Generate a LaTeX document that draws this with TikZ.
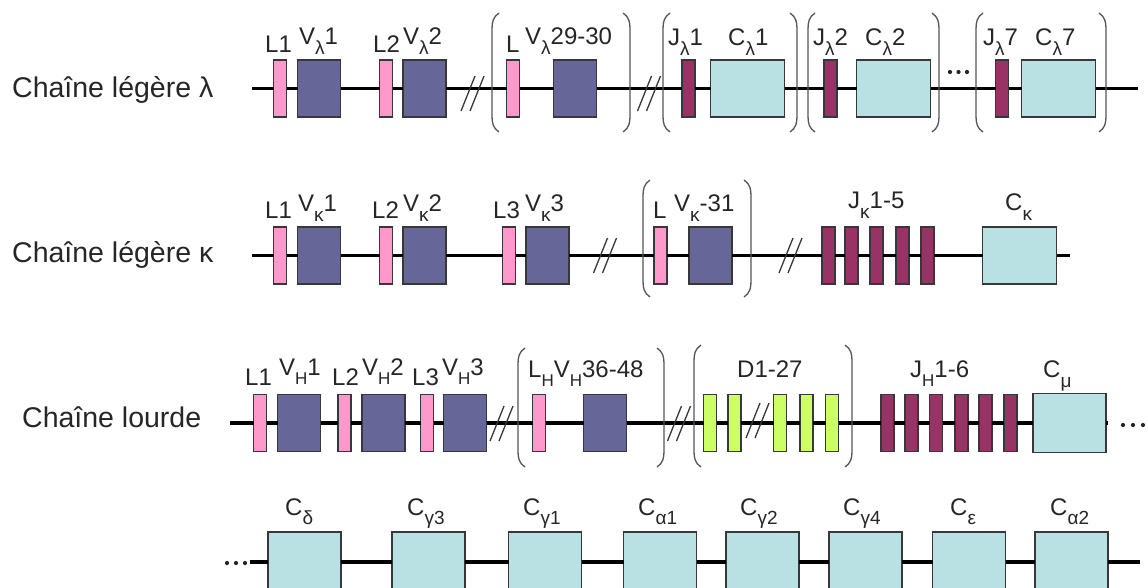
\documentclass[tikz,border=0pt]{standalone}
\usepackage{fontspec}
\setmainfont{Liberation Sans}
\definecolor{cL}{HTML}{FF99CC}
\definecolor{cV}{HTML}{666699}
\definecolor{cJ}{HTML}{993366}
\definecolor{cC}{HTML}{B9E1E4}
\definecolor{cD}{HTML}{CCFF66}
\definecolor{cEdge}{HTML}{383838}
\newcommand{\dsub}[2][10]{\raisebox{-#1pt}{\fontsize{19}{19}\selectfont #2}}
\newcommand{\hsub}{\raisebox{-9pt}{\fontsize{17}{17}\selectfont H}}
\newcommand{\brL}[3]{\draw[bracket] (#1+7,#2) .. controls (#1+1,#2+4) and (#1,#2+9) .. (#1,#2+16) -- (#1,#3-16) .. controls (#1,#3-9) and (#1+1,#3-4) .. (#1+7,#3);}
\newcommand{\brR}[3]{\draw[bracket] (#1-7,#2) .. controls (#1-1,#2+4) and (#1,#2+9) .. (#1,#2+16) -- (#1,#3-16) .. controls (#1,#3-9) and (#1-1,#3-4) .. (#1-7,#3);}
\newcommand{\brkmk}[2]{\draw[slash] (#1-11.5,#2+20) -- (#1+2.5,#2-15); \draw[slash] (#1-2.5,#2+20) -- (#1+11.5,#2-15);}
\tikzset{
 gbox/.style={draw=cEdge, line width=1.4pt, inner sep=0pt, outer sep=0pt, anchor=center},
 lbox/.style={gbox, fill=cL, minimum width=13pt, minimum height=57pt},
 vbox/.style={gbox, fill=cV, minimum width=43pt, minimum height=57pt},
 jbox/.style={gbox, fill=cJ, minimum width=13pt, minimum height=57pt},
 cbox/.style={gbox, fill=cC, minimum width=74pt, minimum height=57pt},
 dbox/.style={gbox, fill=cD, minimum width=13pt, minimum height=57pt},
 cbig/.style={gbox, fill=cC, minimum width=73pt, minimum height=59pt},
 chainline/.style={line width=3.2pt, black},
 lbl/.style={anchor=base west, inner sep=0pt, text=black!85, font=\fontsize{24}{24}\selectfont},
 ttl/.style={anchor=base west, inner sep=0pt, text=black!85, font=\fontsize{28.5}{28.5}\selectfont},
 bracket/.style={draw=cEdge!85, line width=1.3pt},
 slash/.style={draw=cEdge, line width=1.3pt},
 dotmk/.style={fill=black!85},
}
\begin{document}
\begin{tikzpicture}[x=1pt,y=-1pt]
\useasboundingbox (0,0) rectangle (1148,587);
\clip (0,0) rectangle (1148,587);
\fill[white] (0,0) rectangle (1148,587);

% ---------------- Row 1 : lambda ----------------
\node[ttl] (title1) at (12,97) {Chaîne légère λ};
\coordinate (r1s) at (252,88.5);
\coordinate (r1e) at (1138,88.5);
\node[lbox] (r1L1) at (280,88.5) {};
\node[vbox] (r1V1) at (319,88.5) {};
\node[lbox] (r1L2) at (386,88.5) {};
\node[vbox] (r1V2) at (424.5,88.5) {};
\node[lbox] (r1L3) at (513,88.5) {};
\node[vbox] (r1V3) at (575,88.5) {};
\node[jbox] (r1J1) at (688.5,88.5) {};
\node[cbox] (r1C1) at (747.5,88.5) {};
\node[jbox] (r1J2) at (830.5,88.5) {};
\node[cbox] (r1C2) at (893.5,88.5) {};
\node[jbox] (r1J7) at (1002,88.5) {};
\node[cbox] (r1C7) at (1058.5,88.5) {};
\draw[chainline] (r1s) -- (r1L1) -- (r1V1) -- (r1L2) -- (r1V2) -- (r1L3) -- (r1V3) -- (r1J1) -- (r1C1) -- (r1J2) -- (r1C2) -- (r1J7) -- (r1C7) -- (r1e);
\brkmk{472.5}{91}
\brkmk{649}{91}
\brL{492}{13}{132} \brR{630}{13}{132}
\brL{663}{13}{132} \brR{797}{13}{132}
\brL{808}{13}{132} \brR{939}{13}{132}
\brL{976}{13}{132} \brR{1106}{13}{132}
\fill[dotmk] (950,72) circle (2.1) (958.5,72) circle (2.1) (967,72) circle (2.1);
\node[lbl] (t1L1) at (265,52) {L1};
\node[lbl] (t1V1) at (299,44) {V\dsub{λ}1};
\node[lbl] (t1L2) at (373,52) {L2};
\node[lbl] (t1V2) at (403,44) {V\dsub{λ}2};
\node[lbl] (t1L3) at (506,52) {L};
\node[lbl] (t1V3) at (525,44) {V\dsub{λ}29-30};
\node[lbl] (t1J1) at (668,45) {J\dsub{λ}1};
\node[lbl] (t1C1) at (728,45) {C\dsub{λ}1};
\node[lbl] (t1J2) at (813,45) {J\dsub{λ}2};
\node[lbl] (t1C2) at (865,45) {C\dsub{λ}2};
\node[lbl] (t1J7) at (983,45) {J\dsub{λ}7};
\node[lbl] (t1C7) at (1035,45) {C\dsub{λ}7};

% ---------------- Row 2 : kappa ----------------
\node[ttl] (title2) at (12,262) {Chaîne légère κ};
\coordinate (r2s) at (252,255.5);
\coordinate (r2e) at (1070,255.5);
\node[lbox] (r2L1) at (280,255.5) {};
\node[vbox] (r2V1) at (319,255.5) {};
\node[lbox] (r2L2) at (386,255.5) {};
\node[vbox] (r2V2) at (424.5,255.5) {};
\node[lbox] (r2L3) at (509,255.5) {};
\node[vbox] (r2V3) at (547.5,255.5) {};
\node[lbox] (r2L4) at (660.5,255.5) {};
\node[vbox] (r2V4) at (710.5,255.5) {};
\node[jbox] (r2J1) at (828.5,255.5) {};
\node[jbox] (r2J2) at (851.5,255.5) {};
\node[jbox] (r2J3) at (876.5,255.5) {};
\node[jbox] (r2J4) at (902.5,255.5) {};
\node[jbox] (r2J5) at (927.5,255.5) {};
\node[cbox] (r2C) at (1019.5,255.5) {};
\draw[chainline] (r2s) -- (r2L1) -- (r2V1) -- (r2L2) -- (r2V2) -- (r2L3) -- (r2V3) -- (r2L4) -- (r2V4) -- (r2J1) -- (r2J2) -- (r2J3) -- (r2J4) -- (r2J5) -- (r2C) -- (r2e);
\brkmk{605}{253}
\brkmk{790.5}{253}
\brL{643}{180}{297} \brR{751}{180}{297}
\node[lbl] (t2L1) at (265,218) {L1};
\node[lbl] (t2V1) at (298,211) {V\dsub{κ}1};
\node[lbl] (t2L2) at (372,218) {L2};
\node[lbl] (t2V2) at (403,211) {V\dsub{κ}2};
\node[lbl] (t2L3) at (493,218) {L3};
\node[lbl] (t2V3) at (525,211) {V\dsub{κ}3};
\node[lbl] (t2L4) at (653,218) {L};
\node[lbl] (t2V4) at (674,211) {V\dsub{κ}-31};
\node[lbl] (t2J) at (848,208) {J\dsub{κ}1-5};
\node[lbl] (t2C) at (1005,210) {C\dsub{κ}};

% ---------------- Row 3 : heavy ----------------
\node[ttl] (title3) at (22,427) {Chaîne lourde};
\coordinate (r3s) at (230,423);
\coordinate (r3e) at (1108,423);
\node[lbox] (r3L1) at (260,423) {};
\node[vbox] (r3V1) at (299,423) {};
\node[lbox] (r3L2) at (344.5,423) {};
\node[vbox] (r3V2) at (383.5,423) {};
\node[lbox] (r3L3) at (427,423) {};
\node[vbox] (r3V3) at (465,423) {};
\node[lbox] (r3L4) at (539,423) {};
\node[vbox] (r3V4) at (605,423) {};
\node[dbox] (r3D1) at (710,423) {};
\node[dbox] (r3D2) at (734.5,423) {};
\node[dbox] (r3D3) at (780,423) {};
\node[dbox] (r3D4) at (806.5,423) {};
\node[dbox] (r3D5) at (832,423) {};
\node[jbox] (r3J1) at (887.5,423) {};
\node[jbox] (r3J2) at (911.5,423) {};
\node[jbox] (r3J3) at (936,423) {};
\node[jbox] (r3J4) at (961.5,423) {};
\node[jbox] (r3J5) at (985.5,423) {};
\node[jbox] (r3J6) at (1010.5,423) {};
\node[cbig] (r3C) at (1069.5,423) {};
\draw[chainline] (r3s) -- (r3L1) -- (r3V1) -- (r3L2) -- (r3V2) -- (r3L3) -- (r3V3) -- (r3L4) -- (r3V4) -- (r3D1) -- (r3D2) -- (r3D3) -- (r3D4) -- (r3D5) -- (r3J1) -- (r3J2) -- (r3J3) -- (r3J4) -- (r3J5) -- (r3J6) -- (r3C) -- (r3e);
\brkmk{501.5}{421}
\brkmk{679}{421}
\brkmk{757.5}{418}
\brL{518}{348}{467} \brR{664}{348}{467}
\brL{694}{345}{467} \brR{852}{345}{467}
\fill[dotmk] (1123,425) circle (2.1) (1133,425) circle (2.1) (1143,425) circle (2.1);
\node[lbl] (t3L1) at (245,385) {L1};
\node[lbl] (t3V1) at (279,375) {V\hsub 1};
\node[lbl] (t3L2) at (332,385) {L2};
\node[lbl] (t3V2) at (362,375) {V\hsub 2};
\node[lbl] (t3L3) at (412,385) {L3};
\node[lbl] (t3V3) at (442,375) {V\hsub 3};
\node[lbl] (t3V4) at (528,377) {L\hsub V\hsub 36-48};
\node[lbl] (t3D) at (737,377) {D1-27};
\node[lbl] (t3J) at (910,377) {J\hsub 1-6};
\node[lbl] (t3C) at (1043,377) {C\dsub{μ}};

% ---------------- Row 4 : constant genes ----------------
\coordinate (r4s) at (250,562);
\coordinate (r4e) at (1140,562);
\tikzset{c4/.style={gbox, fill=cC, minimum width=73pt, minimum height=60pt}}
\node[c4] (r4C1) at (304.5,562) {};
\node[c4] (r4C2) at (428.5,562) {};
\node[c4] (r4C3) at (545,562) {};
\node[c4] (r4C4) at (660,562) {};
\node[c4] (r4C5) at (762.5,562) {};
\node[c4] (r4C6) at (865.5,562) {};
\node[c4] (r4C7) at (969,562) {};
\node[c4] (r4C8) at (1071.5,562) {};
\draw[chainline] (r4s) -- (r4C1) -- (r4C2) -- (r4C3) -- (r4C4) -- (r4C5) -- (r4C6) -- (r4C7) -- (r4C8) -- (r4e);
\fill[dotmk] (227,563) circle (2.1) (236,563) circle (2.1) (245,563) circle (2.1);
\node[lbl] (t4C1) at (285,515) {C\dsub[9]{δ}};
\node[lbl] (t4C2) at (407,515) {C\dsub[9]{γ3}};
\node[lbl] (t4C3) at (523,515) {C\dsub[9]{γ1}};
\node[lbl] (t4C4) at (638,515) {C\dsub[9]{α1}};
\node[lbl] (t4C5) at (740,515) {C\dsub[9]{γ2}};
\node[lbl] (t4C6) at (843,515) {C\dsub[9]{γ4}};
\node[lbl] (t4C7) at (950,515) {C\dsub[9]{ε}};
\node[lbl] (t4C8) at (1050,515) {C\dsub[9]{α2}};
\end{tikzpicture}
\end{document}
